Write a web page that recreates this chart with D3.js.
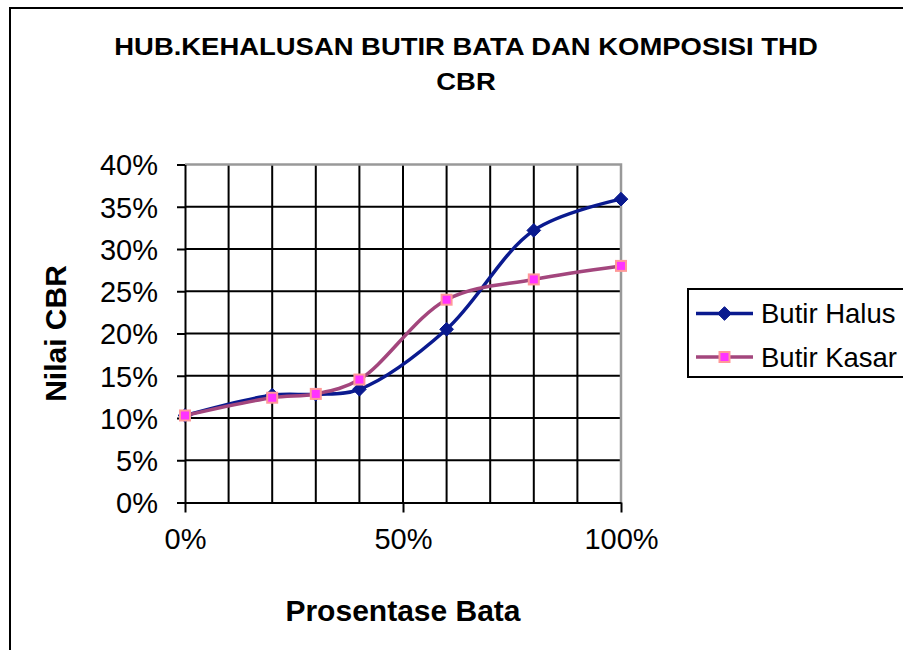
<!DOCTYPE html>
<html>
<head>
<meta charset="utf-8">
<script src="https://cdn.jsdelivr.net/npm/d3@7"></script>
<style>
  body { margin: 0; background: #fff; }
  #container { width: 903px; height: 650px; overflow: hidden; }
  text { font-family: "Liberation Sans", Arial, sans-serif; fill: #000; }
</style>
</head>
<body>
<div id="container"></div>
<script>
var titleLines = ['HUB.KEHALUSAN BUTIR BATA DAN KOMPOSISI THD', 'CBR'];
var xLabel = 'Prosentase Bata';
var yLabel = 'Nilai CBR';

var xValues = [0, 0.2, 0.3, 0.4, 0.6, 0.8, 1.0];
var halus = [0.103, 0.127, 0.128, 0.134, 0.205, 0.322, 0.359];
var kasar = [0.103, 0.124, 0.1285, 0.1455, 0.240, 0.264, 0.280];
var seriesNames = ['Butir Halus', 'Butir Kasar'];

var xGrid = [0, 0.1, 0.2, 0.3, 0.4, 0.5, 0.6, 0.7, 0.8, 0.9, 1.0];
var xTicks = [0, 0.5, 1.0];
var yTicks = [0, 0.05, 0.10, 0.15, 0.20, 0.25, 0.30, 0.35, 0.40];

var margin = { top: 164.5, right: 282, bottom: 147.5, left: 185 };
var fullW = 903, fullH = 650;
var width = fullW - margin.left - margin.right,
	height = fullH - margin.top - margin.bottom;

var svg = d3.select('#container').append('svg')
	.attr('width', fullW)
	.attr('height', fullH);

// outer chart frame (cropped on right and bottom)
svg.append('path')
	.attr('d', 'M10,' + fullH + ' L10,8 L' + fullW + ',8')
	.attr('fill', 'none')
	.attr('stroke', '#000')
	.attr('stroke-width', 2);

var pct = d3.format('.0%');

// title
svg.selectAll('.title')
	.data(titleLines)
	.enter().append('text')
	.attr('class', 'title')
	.attr('transform', function(d, i) { return 'translate(466,' + (54.5 + i * 35) + ') scale(1.12,1)'; })
	.attr('text-anchor', 'middle')
	.style('font-size', '24.5px')
	.style('font-weight', 'bold')
	.text(function(d) { return d; });

var g = svg.append('g')
	.attr('transform', 'translate(' + margin.left + ',' + margin.top + ')');

var x = d3.scaleLinear().domain([0, 1]).range([0, width]);
var y = d3.scaleLinear().domain([0, 0.40]).range([height, 0]);

// gridlines
g.selectAll('.vgrid')
	.data(xGrid.slice(1, -1))
	.enter().append('line')
	.attr('x1', function(d) { return x(d); })
	.attr('x2', function(d) { return x(d); })
	.attr('y1', 0)
	.attr('y2', height)
	.attr('stroke', '#000')
	.attr('stroke-width', 2);

g.selectAll('.hgrid')
	.data(yTicks.slice(1, -1))
	.enter().append('line')
	.attr('x1', 0)
	.attr('x2', width)
	.attr('y1', function(d) { return y(d); })
	.attr('y2', function(d) { return y(d); })
	.attr('stroke', '#000')
	.attr('stroke-width', 2);

// plot area top / right border (gray)
g.append('path')
	.attr('d', 'M0,0 L' + width + ',0 L' + width + ',' + height)
	.attr('fill', 'none')
	.attr('stroke', '#999')
	.attr('stroke-width', 2.5);

// axes
var xAxis = g.append('g')
	.attr('transform', 'translate(0,' + height + ')')
	.call(d3.axisBottom(x).tickValues(xTicks).tickSize(10).tickSizeOuter(0).tickFormat(pct));

var yAxis = g.append('g')
	.call(d3.axisLeft(y).tickValues(yTicks).tickSize(8).tickSizeOuter(0).tickFormat(pct));

[xAxis, yAxis].forEach(function(a) {
	a.select('.domain').attr('stroke', '#000').attr('stroke-width', 2);
	a.selectAll('.tick line').attr('stroke', '#000').attr('stroke-width', 2);
	a.selectAll('.tick text')
		.style('font-family', '"Liberation Sans", Arial, sans-serif')
		.style('font-size', '29px')
		.attr('fill', '#000');
});

xAxis.selectAll('.tick text').attr('y', 46).attr('dy', 0);
yAxis.selectAll('.tick text').attr('x', -27).attr('dy', '0.36em');

// axis titles
svg.append('text')
	.attr('x', margin.left + width / 2)
	.attr('y', 621)
	.attr('text-anchor', 'middle')
	.style('font-size', '30px')
	.style('font-weight', 'bold')
	.text(xLabel);

svg.append('text')
	.attr('transform', 'translate(66,' + (margin.top + height / 2) + ') rotate(-90)')
	.attr('text-anchor', 'middle')
	.style('font-size', '30px')
	.style('font-weight', 'bold')
	.text(yLabel);

// series
var series = [
	{ name: seriesNames[0], values: halus, color: '#0A1A8F', marker: 'diamond' },
	{ name: seriesNames[1], values: kasar, color: '#A3467D', marker: 'square' }
];

var line = d3.line()
	.x(function(d) { return x(d[0]); })
	.y(function(d) { return y(d[1]); })
	.curve(d3.curveCatmullRom.alpha(0.5));

function drawMarker(sel, type) {
	if (type === 'diamond') {
		sel.append('path')
			.attr('d', d3.symbol().type(d3.symbolDiamond2).size(120))
			.attr('fill', '#0A1A8F')
			.attr('stroke', '#0A1A8F')
			.attr('stroke-width', 1);
	} else {
		sel.append('rect')
			.attr('x', -5).attr('y', -5)
			.attr('width', 10).attr('height', 10)
			.attr('fill', '#FF33FF')
			.attr('stroke', '#FF9999')
			.attr('stroke-width', 2);
	}
}

series.forEach(function(s) {
	var pts = xValues.map(function(v, i) { return [v, s.values[i]]; });
	g.append('path')
		.datum(pts)
		.attr('d', line)
		.attr('fill', 'none')
		.attr('stroke', s.color)
		.attr('stroke-width', 3.5);
	g.selectAll(null)
		.data(pts)
		.enter().append('g')
		.attr('transform', function(d) { return 'translate(' + x(d[0]) + ',' + y(d[1]) + ')'; })
		.each(function() { drawMarker(d3.select(this), s.marker); });
});

// legend
var legend = svg.append('g').attr('transform', 'translate(688,289)');
legend.append('rect')
	.attr('width', 240)
	.attr('height', 88)
	.attr('fill', '#fff')
	.attr('stroke', '#000')
	.attr('stroke-width', 2);

var item = legend.selectAll('.item')
	.data(series)
	.enter().append('g')
	.attr('transform', function(d, i) { return 'translate(0,' + (24.5 + i * 43.5) + ')'; });

item.append('line')
	.attr('x1', 8).attr('x2', 65)
	.attr('stroke', function(d) { return d.color; })
	.attr('stroke-width', 3.5);

item.append('g')
	.attr('transform', 'translate(36.5,0)')
	.each(function(d) { drawMarker(d3.select(this), d.marker); });

item.append('text')
	.attr('x', 73)
	.attr('dy', '0.36em')
	.style('font-size', '27.5px')
	.text(function(d) { return d.name; });
</script>
</body>
</html>
